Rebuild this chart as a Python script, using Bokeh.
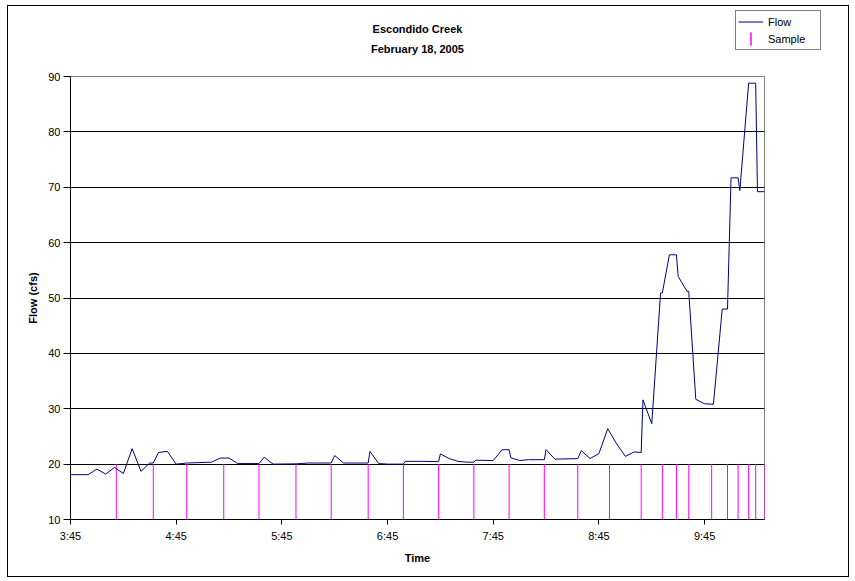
from bokeh.plotting import figure
from bokeh.layouts import column
from bokeh.models import (FixedTicker, Range1d, Legend, LegendItem, ColumnDataSource)
from bokeh.core.properties import value
from bokeh.embed import file_html
from bokeh.resources import INLINE

# ---- data ----
title_lines = ["Escondido Creek", "February 18, 2005"]

flow_times = ["3:45", "3:55", "4:00", "4:05", "4:10", "4:15", "4:20", "4:25", "4:30", "4:32",
              "4:35", "4:40", "4:45", "4:51", "5:05", "5:10", "5:15", "5:20", "5:32", "5:35",
              "5:40", "5:53", "6:00", "6:13", "6:15", "6:20", "6:34", "6:35", "6:40", "6:45",
              "6:54", "6:55", "7:05", "7:14", "7:15", "7:20", "7:25", "7:30", "7:34", "7:35",
              "7:45", "7:50", "7:54", "7:55", "8:00", "8:05", "8:14", "8:15", "8:20", "8:33",
              "8:35", "8:40", "8:45", "8:50", "8:55", "9:00", "9:05", "9:09", "9:10", "9:15",
              "9:20", "9:21", "9:25", "9:29", "9:30", "9:35", "9:36", "9:40", "9:45", "9:50",
              "9:55", "9:58", "10:00", "10:04", "10:05", "10:10", "10:14", "10:15", "10:19"]
flow_cfs = [18.1, 18.1, 19.1, 18.2, 19.4, 18.3, 22.8, 18.7, 20.2, 20.2,
            22.1, 22.3, 20.0, 20.2, 20.35, 21.1, 21.1, 20.1, 20.1, 21.25,
            20.0, 20.05, 20.2, 20.2, 21.55, 20.2, 20.2, 22.3, 20.1, 20.0,
            20.0, 20.5, 20.5, 20.45, 21.85, 21.0, 20.5, 20.35, 20.35, 20.7,
            20.65, 22.6, 22.6, 21.15, 20.65, 20.8, 20.8, 22.6, 20.9, 21.0,
            22.45, 21.0, 21.9, 26.4, 23.7, 21.4, 22.2, 22.1, 31.6, 27.3,
            50.9, 50.9, 57.8, 57.8, 53.9, 51.2, 51.2, 31.7, 30.9, 30.8,
            48.0, 48.0, 71.7, 71.7, 69.4, 88.8, 88.8, 69.2, 69.2]

sample_times = ["4:11", "4:32", "4:51", "5:12", "5:32", "5:53", "6:13", "6:34", "6:54", "7:14",
                "7:34", "7:54", "8:14", "8:33", "8:51", "9:09", "9:21", "9:29", "9:36", "9:49",
                "9:58", "10:04", "10:10", "10:14", "10:19"]
sample_base = 10
sample_top = 20

x_tick_labels = ["3:45", "4:45", "5:45", "6:45", "7:45", "8:45", "9:45"]
x_start, x_end = "3:45", "10:19"
y_ticks = [10, 20, 30, 40, 50, 60, 70, 80, 90]


def to_min(t):
    h, m = t.split(":")
    return int(h) * 60 + int(m)


FONT = "Liberation Sans"

# layout constants (pixels)
W = 840
HEAD_H = 56
MAIN_H = 514
B_LEFT, B_RIGHT, B_TOP, B_BOTTOM = 62, 84, 14, 57


def no_frame_align(fig):
    try:
        fig.frame_align = False
    except Exception:
        pass


# ---------------- main chart ----------------
flow_src = ColumnDataSource(dict(x=[to_min(t) for t in flow_times], y=flow_cfs))
sx = [to_min(t) for t in sample_times]
samp_src = ColumnDataSource(dict(x0=sx, x1=sx, y0=[sample_base] * len(sx), y1=[sample_top] * len(sx)))

p = figure(width=W, height=MAIN_H, output_backend="svg", toolbar_location=None,
           x_range=Range1d(to_min(x_start), to_min(x_end)),
           y_range=Range1d(y_ticks[0], y_ticks[-1]),
           min_border_left=B_LEFT, min_border_right=B_RIGHT,
           min_border_top=B_TOP, min_border_bottom=B_BOTTOM,
           background_fill_color="white", border_fill_color="white")
no_frame_align(p)

p.outline_line_color = "#808080"
p.outline_line_width = 1

p.xgrid.visible = False
p.ygrid.grid_line_color = "black"
p.ygrid.grid_line_width = 1

p.xaxis.ticker = FixedTicker(ticks=[to_min(t) for t in x_tick_labels])
p.xaxis.major_label_overrides = {to_min(t): t for t in x_tick_labels}
p.yaxis.ticker = FixedTicker(ticks=y_ticks)
for ax in (p.xaxis[0], p.yaxis[0]):
    ax.axis_line_color = "black"
    ax.major_tick_line_color = "black"
    ax.minor_tick_line_color = None
    ax.major_tick_in = 0
    ax.major_label_text_font = FONT
    ax.major_label_text_font_size = "11px"
    ax.major_label_text_color = "black"
    ax.axis_label_text_font = FONT
    ax.axis_label_text_font_size = "11px"
    ax.axis_label_text_font_style = "bold"
    ax.axis_label_text_color = "black"
p.xaxis.major_tick_out = 5
p.xaxis.major_label_standoff = 5
p.xaxis.axis_label = "Time"
p.xaxis.axis_label_standoff = 7
p.yaxis.major_tick_out = 7
p.yaxis.major_label_standoff = 3
p.yaxis.axis_label = "Flow (cfs)"
p.yaxis.axis_label_standoff = 6

p.segment(x0="x0", y0="y0", x1="x1", y1="y1", source=samp_src,
          line_color="#FF00FF", line_width=1)
p.line(x="x", y="y", source=flow_src, line_color="#000080", line_width=1)

# ---------------- header: title + legend ----------------
h = figure(width=W, height=HEAD_H, output_backend="svg", toolbar_location=None,
           x_axis_type=None, y_axis_type=None,
           x_range=Range1d(0, W), y_range=Range1d(HEAD_H, 0),
           min_border_left=0, min_border_right=0, min_border_top=0, min_border_bottom=0,
           background_fill_color="white", border_fill_color="white")
no_frame_align(h)
h.outline_line_color = None

center_x = (B_LEFT + (W - B_RIGHT)) / 2
title_src = ColumnDataSource(dict(x=[center_x, center_x], y=[22, 42], text=title_lines))
h.text(x="x", y="y", text="text", source=title_src, text_font=value(FONT),
       text_font_size=value("11px"), text_font_style="bold", text_color="black",
       text_align="center", text_baseline="middle")

# legend proxies (placed outside the visible range of the header)
flow_proxy = h.line(x=[-50, -40], y=[-50, -50], line_color="#000080", line_width=1)
sample_proxy = h.ellipse(x=[-50], y=[-50], width=0.01, height=20,
                         width_units="screen", height_units="screen",
                         fill_color=None, line_color="#FF00FF", line_width=1)

legend = Legend(items=[LegendItem(label="Flow", renderers=[flow_proxy]),
                       LegendItem(label="Sample", renderers=[sample_proxy])],
                location=(727, 12), orientation="vertical",
                border_line_color="black", border_line_width=1,
                background_fill_color="white", background_fill_alpha=1,
                padding=2, spacing=0, margin=0,
                glyph_width=25, glyph_height=17, label_height=17, label_width=50,
                label_standoff=5, label_text_font=FONT, label_text_font_size="11px",
                label_text_color="black")
h.add_layout(legend, "center")

root = column(h, p, spacing=0,
              styles={"border": "1px solid black", "margin-left": "7px", "margin-top": "5px"})

open("out.html", "w").write(file_html(root, INLINE))
